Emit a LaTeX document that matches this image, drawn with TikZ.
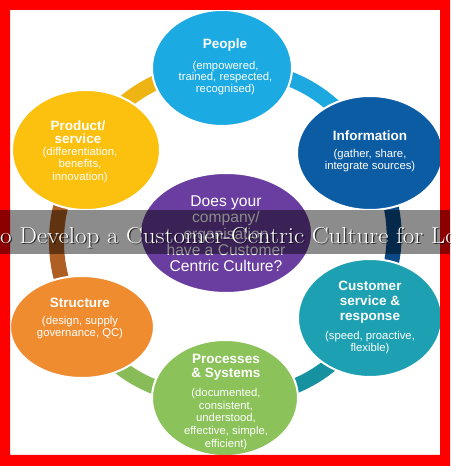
\documentclass[tikz,border=0pt]{standalone}
\usepackage{fontspec}
\usepackage{graphicx}
\newfontfamily\arialf{Liberation Sans}
\usetikzlibrary{shapes.geometric}
\definecolor{peopleC}{RGB}{27,170,226}
\definecolor{infoC}{RGB}{12,92,164}
\definecolor{prodC}{RGB}{252,192,14}
\definecolor{structC}{RGB}{240,140,48}
\definecolor{custC}{RGB}{28,160,178}
\definecolor{procC}{RGB}{140,194,90}
\definecolor{centerC}{RGB}{106,62,160}
\definecolor{peopleB}{RGB}{30,168,224}
\definecolor{infoB}{RGB}{10,75,135}
\definecolor{custB}{RGB}{22,145,160}
\definecolor{procB}{RGB}{135,188,88}
\definecolor{structB}{RGB}{175,95,35}
\definecolor{prodB}{RGB}{238,180,20}
\definecolor{frameC}{RGB}{255,0,0}
\newcommand{\bannerline}{\scalebox{1.09}[1]{o Develop a Customer-Centric Culture for Lo}}
\tikzset{
  disc/.style={ellipse, draw=white, line width=2pt, inner sep=0pt},
  band/.style={line width=15pt},
  ttl/.style={text=white, align=center, inner sep=0pt, font=\arialf\bfseries\fontsize{13.5}{#1}\selectfont},
  ttl/.default=14,
  subt/.style={text=white, align=center, inner sep=0pt, font=\arialf\fontsize{11.3}{#1}\selectfont},
  subt/.default=12,
  ctr/.style={text=white, align=center, inner sep=0pt, font=\arialf\fontsize{15.6}{16.3}\selectfont},
  bantext/.style={anchor=base west, inner sep=0pt, font=\fontsize{23}{25}\selectfont}
}
\begin{document}
\begin{tikzpicture}[x=1pt,y=1pt]
\useasboundingbox (0,0) rectangle (450,466);
\fill[frameC] (0,0) rectangle (450,466);
\fill[white] (10,11) rectangle (440,456);
% circle positions
\path
  node[disc, fill=peopleC, minimum width=140pt, minimum height=116pt] (people) at (222,398) {}
  node[disc, fill=infoC, minimum width=146pt, minimum height=114pt] (info) at (370,313) {}
  node[disc, fill=custC, minimum width=144pt, minimum height=118pt] (cust) at (370,148) {}
  node[disc, fill=procC, minimum width=146pt, minimum height=116pt] (proc) at (225,68) {}
  node[disc, fill=structC, minimum width=144pt, minimum height=102pt] (struct) at (82,139) {}
  node[disc, fill=prodC, minimum width=148pt, minimum height=120pt] (prod) at (86,316) {};
% ring bands
\draw[band, draw=peopleB] (people.center) to[bend left=31] (info.center);
\draw[band, draw=infoB] (info.center) to[bend left=30] (cust.center);
\draw[band, draw=custB] (cust.center) to[bend left=30] (proc.center);
\draw[band, draw=procB] (proc.center) to[bend left=28] (struct.center);
\draw[band, draw=structB] (struct.center) to[bend left=32] (prod.center);
\draw[band, draw=prodB] (prod.center) to[bend left=29] (people.center);
% circles on top of bands
\node[disc, fill=peopleC, minimum width=140pt, minimum height=116pt] (peopleD) at (people) {};
\node[disc, fill=infoC, minimum width=146pt, minimum height=114pt] (infoD) at (info) {};
\node[disc, fill=custC, minimum width=144pt, minimum height=118pt] (custD) at (cust) {};
\node[disc, fill=procC, minimum width=146pt, minimum height=116pt] (procD) at (proc) {};
\node[disc, fill=structC, minimum width=144pt, minimum height=102pt] (structD) at (struct) {};
\node[disc, fill=prodC, minimum width=148pt, minimum height=120pt] (prodD) at (prod) {};
\node[disc, fill=centerC, minimum width=172pt, minimum height=120pt] (center) at (226,233) {};
% texts
\node[ttl] (peopleT) at (225,421) {People};
\node[subt=11.3] (peopleS) at (225.5,388) {(empowered,\\trained, respected,\\recognised)};
\node[ttl=13.5] (prodT) at (78,334) {Product/\\service};
\node[subt=12.5] (prodS) at (80,301) {(differentiation,\\benefits,\\innovation)};
\node[ttl] (infoT) at (370,330) {Information};
\node[subt=12.5] (infoS) at (370,305.5) {(gather, share,\\integrate sources)};
\node[ttl] (structT) at (80,163) {Structure};
\node[subt=11.5] (structS) at (80,138.5) {(design, supply\\governance, QC)};
\node[ttl=15] (custT) at (370,164) {Customer\\service \&\\response};
\node[subt=11.5] (custS) at (370,123.5) {(speed, proactive,\\flexible)};
\node[ttl=14] (procT) at (226,99) {Processes\\\& Systems};
\node[subt=12.75] (procS) at (226,47) {(documented,\\consistent,\\understood,\\effective, simple,\\efficient)};
\node[ctr] (centerT) at (226,232) {Does your\\company/\\organisation\\have a Customer\\Centric Culture?};
% red frame on top
\fill[frameC, even odd rule] (0,0) rectangle (450,466) (10,11) rectangle (440,456);
% banner
\node[fill=black, fill opacity=0.45, minimum width=450pt, minimum height=44pt, inner sep=0pt, anchor=south west] (banner) at (0,212) {};
\node[bantext, text=black, text opacity=0.7] (bannerShadow) at (1.2,221) {\bannerline};
\node[bantext, text=white] (bannerT) at (0,222) {\bannerline};
\end{tikzpicture}
\end{document}
